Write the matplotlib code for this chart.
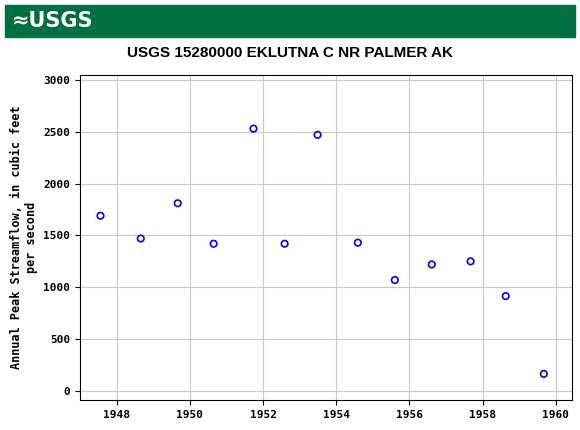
import matplotlib.pyplot as plt
from matplotlib.patches import Rectangle

years = [1947.56, 1948.66, 1949.67, 1950.65, 1951.74, 1952.59, 1953.49,
         1954.59, 1955.60, 1956.61, 1957.67, 1958.63, 1959.67]
peaks = [1690, 1470, 1810, 1420, 2530, 1420, 2470, 1430, 1070, 1220, 1250, 915, 165]
xticks = [1948, 1950, 1952, 1954, 1956, 1958, 1960]
yticks = [0, 500, 1000, 1500, 2000, 2500, 3000]

fig = plt.figure(figsize=(5.8, 4.3), dpi=100)
fig.patches.append(Rectangle((5/580, 1-37/430), 570/580, 32/430, transform=fig.transFigure,
                             color='#006f41', zorder=0))
fig.text(12/580, 1-21/430, '\u2248USGS', color='white', fontsize=15, fontweight='bold',
         va='center', family='DejaVu Sans')
fig.text(0.5, 1-53/430, 'USGS 15280000 EKLUTNA C NR PALMER AK', ha='center', va='center',
         fontsize=11, fontweight='bold', family='Liberation Sans')

ax = fig.add_axes([80/580, 30/430, 492/580, 325/430])
ax.scatter(years, peaks, s=22, facecolors='none', edgecolors='blue', linewidths=1.2, zorder=3)
ax.set_xlim(1947, 1960.44)
ax.set_ylim(-87, 3047)
ax.set_xticks(xticks)
ax.set_yticks(yticks)
ax.grid(True, color='#c8c8c8', linewidth=0.8)
ax.set_axisbelow(True)
for lab in ax.get_xticklabels() + ax.get_yticklabels():
    lab.set_family('DejaVu Sans Mono')
    lab.set_fontweight('bold')
    lab.set_fontsize(8)
ax.set_ylabel('Annual Peak Streamflow, in cubic feet\nper second', family='DejaVu Sans Mono',
              fontsize=8.5, fontweight='bold')
fig.savefig('out.png', dpi=100)
